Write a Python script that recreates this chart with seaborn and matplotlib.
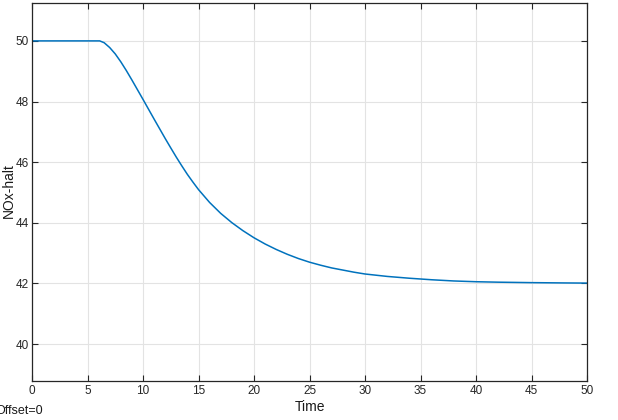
import matplotlib
matplotlib.use("Agg")
import matplotlib.pyplot as plt
import seaborn as sns

# Values
time = [0, 2, 4, 6, 6.1, 6.5, 7, 7.5, 8, 8.5, 9, 9.5, 10, 10.5, 11, 11.5, 12, 12.5,
        13, 13.5, 14, 14.5, 15, 16, 17, 18, 19, 20, 21, 22, 23, 24, 25, 26, 27,
        28, 29, 30, 32, 34, 36, 38, 40, 42, 45, 48, 50]
nox = [50, 50, 50, 50, 50, 49.94, 49.78, 49.57, 49.31, 49.02, 48.71, 48.39, 48.07,
       47.745, 47.42, 47.1, 46.78, 46.47, 46.165, 45.875, 45.595, 45.34, 45.095,
       44.67, 44.31, 44.005, 43.74, 43.505, 43.3, 43.12, 42.96, 42.82, 42.7, 42.6,
       42.51, 42.44, 42.37, 42.31, 42.23, 42.17, 42.12, 42.08, 42.055, 42.04,
       42.025, 42.015, 42.01]
x_ticks = [0, 5, 10, 15, 20, 25, 30, 35, 40, 45, 50]
y_ticks = [40, 42, 44, 46, 48, 50]

sns.set_style("whitegrid")
plt.rcParams["font.family"] = ["Liberation Sans", "DejaVu Sans"]

fig = plt.figure(figsize=(6.18, 4.2), dpi=100)
ax = fig.add_axes([32 / 618, 1 - 381 / 420, 555 / 618, 378 / 420])

sns.lineplot(x=time, y=nox, ax=ax, color="#0072BD", linewidth=1.1)

ax.set_xlim(0, 50)
ax.set_ylim(38.78, 51.25)
ax.set_xticks(x_ticks)
ax.set_yticks(y_ticks)
ax.grid(True, color="#e3e3e3", linewidth=0.8)
for s in ax.spines.values():
    s.set_color("#262626")
    s.set_linewidth(0.9)
ax.tick_params(direction="in", length=4, width=0.8, color="#262626",
               labelsize=8.5, labelcolor="#262626",
               top=True, right=True, bottom=True, left=True)
ax.tick_params(axis="x", pad=3)
ax.tick_params(axis="y", pad=2)
ax.set_xlabel("Time", fontsize=10, color="#1a1a1a")
ax.set_ylabel("NOx-halt", fontsize=10, color="#1a1a1a")
ax.xaxis.set_label_coords(0.5, -0.069)
ax.yaxis.set_label_coords(-0.0414, 0.503)
ax.xaxis.label.set_va("center")
ax.yaxis.label.set_va("center")

# partly clipped at the left edge, as in the original export
fig.text(-0.0075, 0.022, "Offset=0", fontsize=9, color="#1a1a1a", va="center")

fig.savefig("out.png", dpi=100)
